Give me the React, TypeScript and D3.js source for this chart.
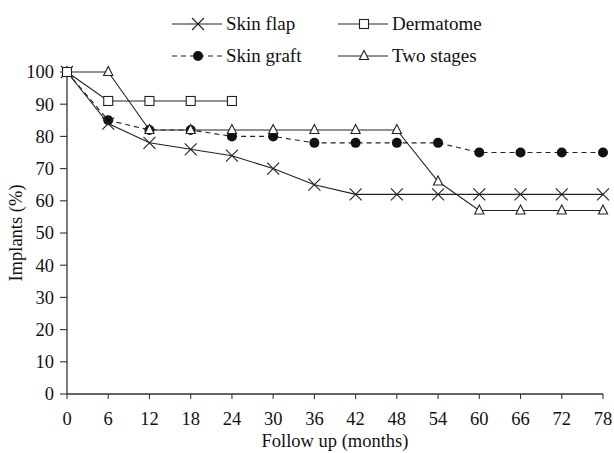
import React from "react";
import * as d3 from "d3";

const months = [0, 6, 12, 18, 24, 30, 36, 42, 48, 54, 60, 66, 72, 78];
const skinFlap = [100, 84, 78, 76, 74, 70, 65, 62, 62, 62, 62, 62, 62, 62];
const skinGraft = [100, 85, 82, 82, 80, 80, 78, 78, 78, 78, 75, 75, 75, 75];
const dermatome = [100, 91, 91, 91, 91];
const twoStages = [100, 100, 82, 82, 82, 82, 82, 82, 82, 66, 57, 57, 57, 57];
const yTicks = [0, 10, 20, 30, 40, 50, 60, 70, 80, 90, 100];

const W = 614, H = 453;
const x = d3.scaleLinear().domain([0, 78]).range([67, 603]);
const y = d3.scaleLinear().domain([0, 100]).range([394, 72]);
const FONT = "Liberation Serif, Times New Roman, serif";
const C = "#222";
const txt: React.CSSProperties = { fontFamily: FONT, fontSize: 18.5 };
const legTxt: React.CSSProperties = { fontFamily: FONT, fontSize: 19 };

type Marker = "x" | "square" | "dot" | "tri";

function Mark({ cx, cy, kind }: { cx: number; cy: number; kind: Marker }) {
  if (kind === "x") {
    const s = 6;
    return (
      <path d={`M${cx - s},${cy - s}L${cx + s},${cy + s}M${cx - s},${cy + s}L${cx + s},${cy - s}`} stroke={C} strokeWidth={1.1} fill="none" />
    );
  }
  if (kind === "square") {
    return <rect x={cx - 4.5} y={cy - 4.5} width={9} height={9} fill="#fff" stroke={C} strokeWidth={1.1} />;
  }
  if (kind === "dot") {
    return <circle cx={cx} cy={cy} r={5} fill="#111" />;
  }
  return <path d={`M${cx},${cy - 5.5}L${cx + 4.6},${cy + 3.5}L${cx - 4.6},${cy + 3.5}Z`} fill="#fff" stroke={C} strokeWidth={1.1} />;
}

function Series({ vals, kind, dash }: { vals: number[]; kind: Marker; dash?: string }) {
  const pts: [number, number][] = vals.map((v, i) => [x(months[i]), y(v)]);
  const line = d3.line()(pts) || "";
  return (
    <g>
      <path d={line} fill="none" stroke={C} strokeWidth={1.1} strokeDasharray={dash} />
      {pts.map((p, i) => (
        <Mark key={i} cx={p[0]} cy={p[1]} kind={kind} />
      ))}
    </g>
  );
}

function LegendItem({ lx, ly, kind, label, dash }: { lx: number; ly: number; kind: Marker; label: string; dash?: string }) {
  return (
    <g>
      <line x1={lx} x2={lx + 50} y1={ly} y2={ly} stroke={C} strokeWidth={1.1} strokeDasharray={dash} />
      <Mark cx={lx + 26} cy={ly} kind={kind} />
      <text x={lx + 54} y={ly} dy="0.33em" style={legTxt} fill="#111">{label}</text>
    </g>
  );
}

export default function App() {
  return (
    <svg width={W} height={H} style={{ position: "absolute", left: 0, top: 0, background: "#fff" }}>
      <rect width={W} height={H} fill="#fff" />
      <line x1={x(0)} x2={x(0)} y1={y(0)} y2={y(100)} stroke="#333" strokeWidth={1.3} />
      <line x1={x(0)} x2={x(78)} y1={y(0)} y2={y(0)} stroke="#333" strokeWidth={1.3} />
      {yTicks.map((t) => (
        <g key={t}>
          <line x1={x(0) - 7} x2={x(0)} y1={y(t)} y2={y(t)} stroke="#333" strokeWidth={1.1} />
          <text x={x(0) - 13} y={y(t)} dy="0.35em" textAnchor="end" style={txt} fill="#111">{t}</text>
        </g>
      ))}
      {months.map((m) => (
        <g key={m}>
          <line x1={x(m)} x2={x(m)} y1={y(0)} y2={y(0) + 5} stroke="#333" strokeWidth={1.1} />
          <text x={x(m)} y={425} textAnchor="middle" style={txt} fill="#111">{m}</text>
        </g>
      ))}
      <text x={(x(0) + x(78)) / 2} y={447} textAnchor="middle" style={txt} fill="#111">Follow up (months)</text>
      <text transform={`translate(22,${(y(0) + y(100)) / 2}) rotate(-90)`} textAnchor="middle" style={txt} fill="#111">Implants (%)</text>

      <Series vals={skinGraft} kind="dot" dash="5,4" />
      <Series vals={skinFlap} kind="x" />
      <Series vals={twoStages} kind="tri" />
      <Series vals={dermatome} kind="square" />

      <LegendItem lx={172} ly={24} kind="x" label="Skin flap" />
      <LegendItem lx={338} ly={24} kind="square" label="Dermatome" />
      <LegendItem lx={172} ly={56} kind="dot" label="Skin graft" dash="5,4" />
      <LegendItem lx={338} ly={56} kind="tri" label="Two stages" />
    </svg>
  );
}
